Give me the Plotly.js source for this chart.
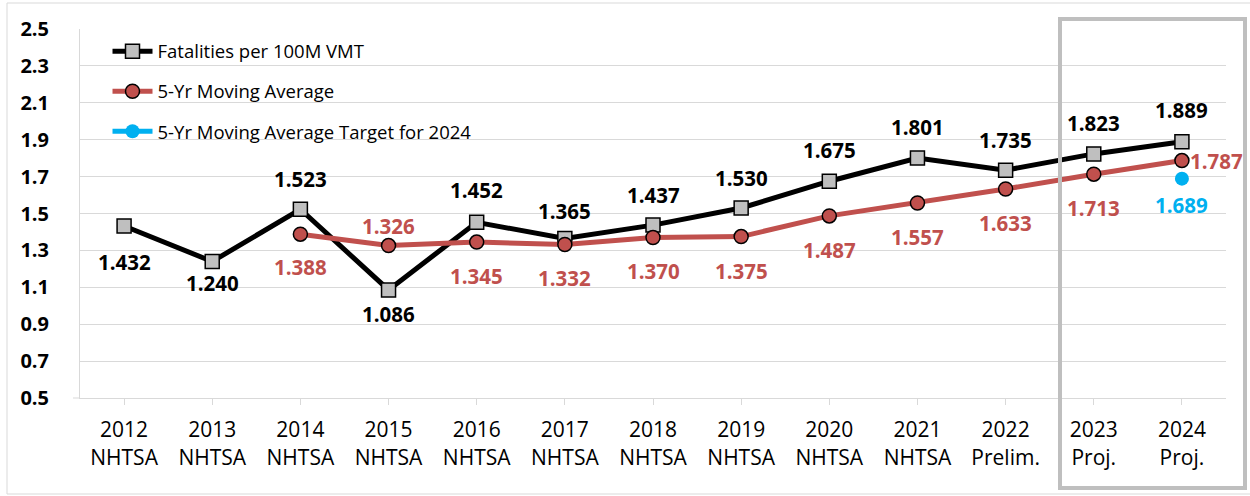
<!DOCTYPE html>
<html>
<head>
<meta charset="utf-8">
<script src="https://cdn.plot.ly/plotly-3.0.1.min.js"></script>
<style>html,body{margin:0;padding:0;background:#fff;}#chart{width:1250px;height:496px;}</style>
</head>
<body>
<div id="chart"></div>
<script>
const categories = ["2012<br>NHTSA","2013<br>NHTSA","2014<br>NHTSA","2015<br>NHTSA","2016<br>NHTSA","2017<br>NHTSA","2018<br>NHTSA","2019<br>NHTSA","2020<br>NHTSA","2021<br>NHTSA","2022<br>Prelim.","2023<br>Proj.","2024<br>Proj."];
const fatalities = [1.432,1.240,1.523,1.086,1.452,1.365,1.437,1.530,1.675,1.801,1.735,1.823,1.889];
const movingAvg = [null,null,1.388,1.326,1.345,1.332,1.370,1.375,1.487,1.557,1.633,1.713,1.787];
const targetCats = ["2024<br>Proj."];
const target = [1.689];
const yTicks = [0.5,0.7,0.9,1.1,1.3,1.5,1.7,1.9,2.1,2.3,2.5];

// label offsets (style)
const fatShift = [-36,-22,30,-24,32,27,30,30,31,31,30,31,32];
const maShift = [0,0,-33,20,-34,-33,-34,-34,-34,-34,-34,-34,0];

const FONT = "Open Sans, Liberation Sans, sans-serif";
const BLACK = "#000000", RED = "#c0504d", BLUE = "#00b0f0";

const traces = [
  {x: categories, y: fatalities, type: "scatter", mode: "lines+markers", name: "Fatalities per 100M VMT",
   legendgroup: "a", line: {color: BLACK, width: 5},
   marker: {symbol: "square", size: 14, color: "#bfbfbf", line: {color: BLACK, width: 1.5}}},
  {x: categories, y: movingAvg, type: "scatter", mode: "lines+markers", name: "5-Yr Moving Average",
   legendgroup: "b", line: {color: RED, width: 5}, connectgaps: false,
   marker: {symbol: "circle", size: 14, color: RED, line: {color: BLACK, width: 1.5}}},
  {x: targetCats, y: target, type: "scatter", mode: "lines+markers", name: "5-Yr Moving Average Target for 2024",
   legendgroup: "c", line: {color: BLUE, width: 5},
   marker: {symbol: "circle", size: 14, color: BLUE}}
];

const annotations = [];
fatalities.forEach((v,i) => annotations.push({x: categories[i], y: v, xref: "x", yref: "y", text: v.toFixed(3),
  showarrow: false, yshift: fatShift[i], font: {family: FONT, size: 20.5, color: BLACK, weight: "bold"}}));
movingAvg.forEach((v,i) => { if (v === null) return;
  const last = i === movingAvg.length - 1;
  annotations.push({x: categories[i], y: v, xref: "x", yref: "y", text: v.toFixed(3), showarrow: false,
    yshift: maShift[i], xshift: last ? 6 : 0, xanchor: last ? "left" : "center",
    font: {family: FONT, size: 20.5, color: RED, weight: "bold"}}); });
target.forEach((v,i) => annotations.push({x: targetCats[i], y: v, xref: "x", yref: "y", text: v.toFixed(3),
  showarrow: false, yshift: -26, font: {family: FONT, size: 20.5, color: BLUE, weight: "bold"}}));

const layout = {
  width: 1250, height: 496,
  margin: {l: 80, r: 24, t: 29, b: 98},
  paper_bgcolor: "#ffffff", plot_bgcolor: "#ffffff",
  font: {family: FONT, color: BLACK},
  showlegend: true,
  legend: {x: 0.024, y: 0.99, xanchor: "left", yanchor: "top", bgcolor: "rgba(0,0,0,0)",
    font: {family: FONT, size: 18.5, color: BLACK}, tracegroupgap: 13, itemwidth: 40},
  xaxis: {type: "category", range: [-0.5, 12.5], showgrid: false, showline: true, linecolor: "#d9d9d9", linewidth: 1,
    ticks: "outside", ticklen: 6, tickcolor: "#d9d9d9", ticklabelstandoff: 7,
    tickfont: {family: FONT, size: 21, color: BLACK}, zeroline: false},
  yaxis: {range: [0.5, 2.5], tickvals: yTicks, ticktext: yTicks.map(v => v.toFixed(1)), showgrid: true, gridcolor: "#d9d9d9",
    gridwidth: 1, showline: true, linecolor: "#d9d9d9", zeroline: false, ticks: "outside", ticklen: 26, tickcolor: "#ffffff",
    tickfont: {family: FONT, size: 20, color: BLACK, weight: "bold"}},
  annotations: annotations,
  shapes: [
    {type: "rect", xref: "paper", yref: "paper", x0: (1060-80)/1146, x1: (1245-80)/1146, y0: (398-488)/369, y1: (398-19)/369,
     line: {color: "#bfbfbf", width: 4}, fillcolor: "rgba(0,0,0,0)"},
    {type: "line", xref: "paper", yref: "paper", x0: (73-80)/1146, x1: 0, y0: 0, y1: 0, line: {color: "#d9d9d9", width: 1}},
    {type: "rect", xref: "paper", yref: "paper", x0: (7-80)/1146, x1: (1260-80)/1146, y0: (398-494)/369, y1: (398-3)/369,
     line: {color: "#d9d9d9", width: 1}, fillcolor: "rgba(0,0,0,0)", layer: "below"}
  ]
};

Plotly.newPlot("chart", traces, layout, {displayModeBar: false, staticPlot: true});
</script>
</body>
</html>
